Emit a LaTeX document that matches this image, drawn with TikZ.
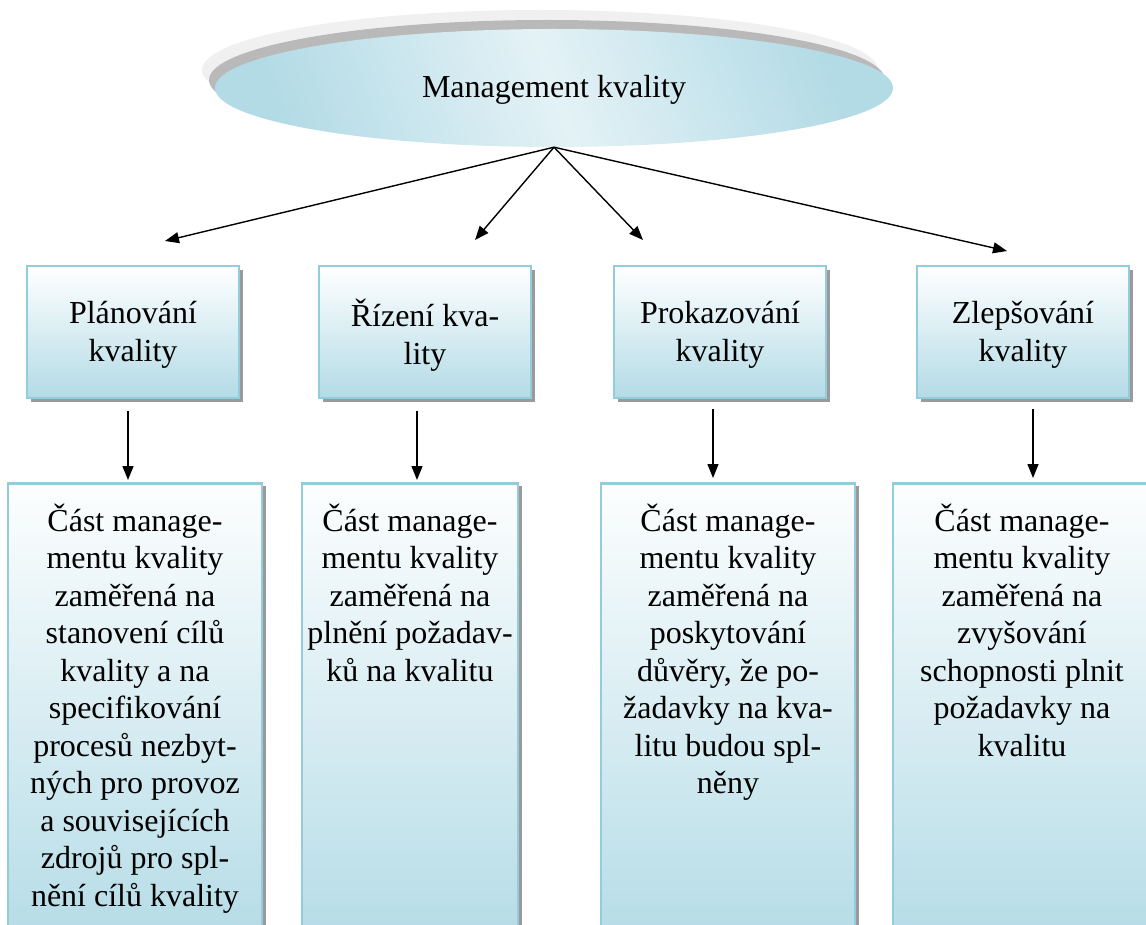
\documentclass[tikz,border=0pt]{standalone}
\usepackage{fontspec}
\setmainfont{Liberation Serif}
\usetikzlibrary{arrows.meta,shapes.geometric}
\definecolor{edgeblue}{HTML}{93CDDC}
\definecolor{deepblue}{HTML}{B3DBE6}
\definecolor{paleblue}{HTML}{E4F2F6}
\definecolor{shadowgray}{HTML}{9A9A9A}
\tikzset{
  txt/.style={font=\fontsize{32}{37.5}\selectfont, align=center},
  headbox/.style={draw=edgeblue, line width=2.5pt, top color=white, bottom color=deepblue,
    minimum width=212pt, minimum height=132pt},
  descbox/.style={draw=edgeblue, line width=2.5pt, top color=white!97!deepblue, bottom color=deepblue,
    minimum height=470pt},
  boxshadow/.style={fill=shadowgray},
  arr/.style={line width=1.4pt, -{Triangle[length=14pt,width=11pt]}},
}
\begin{document}
\begin{tikzpicture}[x=1pt,y=-1pt]
\useasboundingbox (0,0) rectangle (1146,925);
\clip (0,0) rectangle (1146,925);

% central ellipse with its two-layer shadow
\fill[gray!12] (540,70) ellipse [x radius=338pt, y radius=60pt];
\fill[gray!55] (547,80) ellipse [x radius=338pt, y radius=60pt];
\shade[top color=deepblue, bottom color=deepblue, middle color=paleblue, shading angle=-70]
  (554,88) ellipse [x radius=339pt, y radius=59pt];
\node[ellipse, minimum width=678pt, minimum height=118pt] (root) at (554,88) {};
\node[txt] (roottext) at ([yshift=-2pt]root.center) {Management kvality};

% second level boxes
\foreach \cx in {133, 425, 720, 1023}{
  \fill[boxshadow] (\cx-102,270) rectangle (\cx+110,402);
}
\node[headbox] (p1) at (133,332) {};
\node[headbox] (p2) at (425,332) {};
\node[headbox] (p3) at (720,332) {};
\node[headbox] (p4) at (1023,332) {};
\node[txt] (h1) at ([yshift=-3pt]p1.center) {Plánování\\kvality};
\node[txt] (h2) at ([yshift=-3pt]p2.center) {Řízení kva-\\lity};
\node[txt] (h3) at ([yshift=-3pt]p3.center) {Prokazování\\kvality};
\node[txt] (h4) at ([yshift=-3pt]p4.center) {Zlepšování\\kvality};

% description boxes
\fill[boxshadow] (12,486) rectangle (266,960);
\fill[boxshadow] (306,486) rectangle (522,960);
\fill[boxshadow] (605,486) rectangle (859,960);
\node[descbox, minimum width=254pt, anchor=north] (d1) at (135,482) {};
\node[descbox, minimum width=216pt, anchor=north] (d2) at (410,482) {};
\node[descbox, minimum width=254pt, anchor=north] (d3) at (728,482) {};
\node[descbox, minimum width=258pt, anchor=north] (d4) at (1022,482) {};

\node[txt, anchor=north] (t1) at ([yshift=-18pt]d1.north) {Část manage-\\mentu kvality\\zaměřená na\\stanovení cílů\\kvality a na\\specifikování\\procesů nezbyt-\\ných pro provoz\\a souvisejících\\zdrojů pro spl-\\nění cílů kvality};
\node[txt, anchor=north] (t2) at ([yshift=-18pt]d2.north) {Část manage-\\mentu kvality\\zaměřená na\\plnění požadav-\\ků na kvalitu};
\node[txt, anchor=north] (t3) at ([yshift=-18pt]d3.north) {Část manage-\\mentu kvality\\zaměřená na\\poskytování\\důvěry, že po-\\žadavky na kva-\\litu budou spl-\\něny};
\node[txt, anchor=north] (t4) at ([yshift=-18pt]d4.north) {Část manage-\\mentu kvality\\zaměřená na\\zvyšování\\schopnosti plnit\\požadavky na\\kvalitu};

% arrow ends above the second level boxes
\coordinate (a1) at (165,241);
\coordinate (a2) at (475,240);
\coordinate (a3) at (643,240);
\coordinate (a4) at (1007,251);
\foreach \e in {a1,a2,a3,a4}{
  \draw[arr] (root.south) -- (\e);
}

% vertical arrows into the description boxes
\coordinate (v1) at (128,0);
\coordinate (v2) at (417,0);
\coordinate (v3) at (713,0);
\coordinate (v4) at (1033,0);
\draw[arr] ([yshift=-12pt]p1.south -| v1) -- ([yshift=2pt]d1.north -| v1);
\draw[arr] ([yshift=-12pt]p2.south -| v2) -- ([yshift=2pt]d2.north -| v2);
\draw[arr] ([yshift=-10pt]p3.south -| v3) -- ([yshift=4pt]d3.north -| v3);
\draw[arr] ([yshift=-10pt]p4.south -| v4) -- ([yshift=4pt]d4.north -| v4);
\end{tikzpicture}
\end{document}
